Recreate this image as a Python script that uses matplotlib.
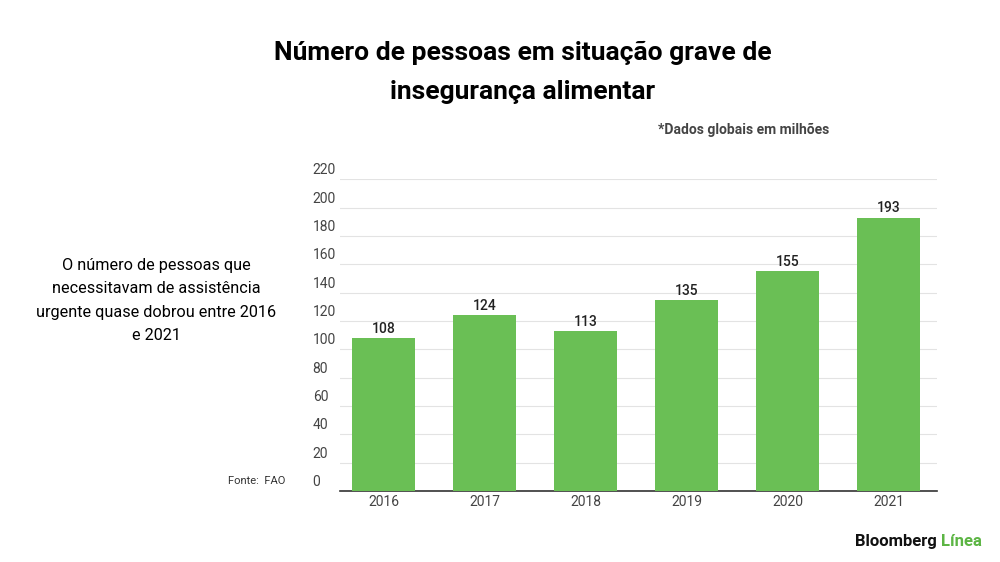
import matplotlib
matplotlib.use("Agg")
import matplotlib.pyplot as plt

years = ["2016", "2017", "2018", "2019", "2020", "2021"]
values = [108, 124, 113, 135, 155, 193]
yticks = [0, 20, 40, 60, 80, 100, 120, 140, 160, 180, 200, 220]

plt.rcParams['font.family'] = ['Roboto', 'DejaVu Sans']
fig = plt.figure(figsize=(10, 5.62), dpi=100)
ax = fig.add_axes([0.340, 0.126, 0.597, 0.555])
x = range(len(years))
ax.bar(x, values, width=0.62, color="#6abf55", zorder=3)
for i, v in zip(x, values):
    ax.text(i, v + 1.5, str(v), ha="center", va="bottom", fontsize=10, fontweight="medium", color="#222222")
ax.set_xlim(-0.43, 5.48)
ax.set_ylim(0, 220)
ax.set_yticks(yticks)
ax.set_yticklabels([])
for t in yticks:
    ax.axhline(t, color="#e3e3e3", lw=0.8, zorder=0)
    ax.text(-0.70, t + 1.5, str(t), ha="left", va="bottom", fontsize=10, color="#444444")
ax.set_xticks(list(x))
ax.set_xticklabels(years, fontsize=10, color="#444444")
ax.tick_params(length=0, pad=3)
for s in ["top", "right", "left"]:
    ax.spines[s].set_visible(False)
ax.spines["bottom"].set_color("#333333")
ax.spines["bottom"].set_linewidth(1.2)

fig.text(0.523, 0.905, "Número de pessoas em situação grave de", ha="center", va="center", fontsize=19, fontweight="bold")
fig.text(0.523, 0.836, "insegurança alimentar", ha="center", va="center", fontsize=19, fontweight="bold")
fig.text(0.744, 0.769, "*Dados globais em milhões", ha="center", va="center", fontsize=10, fontweight="bold", color="#444444")
fig.text(0.156, 0.465, "O número de pessoas que\nnecessitavam de assistência\nurgente quase dobrou entre 2016\ne 2021",
         ha="center", va="center", fontsize=11.7, linespacing=1.7)
fig.text(0.228, 0.145, "Fonte:  FAO", ha="left", va="center", fontsize=8, color="#333333")
fig.text(0.937, 0.036, "Bloomberg", ha="right", va="center", fontsize=12, fontweight="bold", color="#111111")
fig.text(0.941, 0.036, "Línea", ha="left", va="center", fontsize=12, fontweight="bold", color="#5cb544")
fig.savefig("out.png", dpi=100, facecolor="white")
